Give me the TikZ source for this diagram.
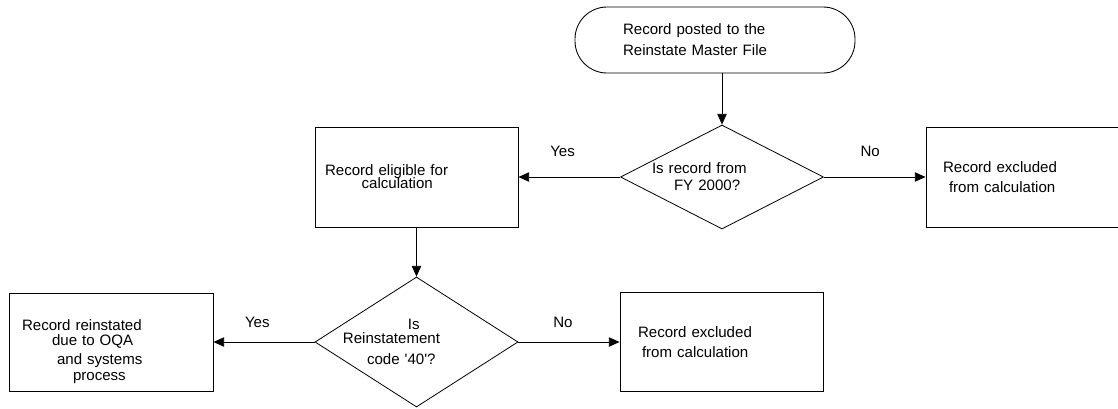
\documentclass[tikz,border=0pt]{standalone}
\usepackage{fontspec}
\setmainfont{Liberation Sans}
\usetikzlibrary{arrows.meta,shapes.geometric}

\begin{document}
\begin{tikzpicture}[x=0.75pt,y=-0.75pt,>={Triangle[length=8pt,width=7pt]},
 every node/.style={font=\fontsize{11.3}{13.5}\selectfont,inner sep=0pt},
 box/.style={draw,line width=0.65pt,align=left,text width=152.25pt,minimum height=75pt},
 dec/.style={draw,diamond,shape aspect=2,line width=0.6pt,align=left,minimum width=152.25pt},
 term/.style={draw,rounded corners=24pt,line width=0.65pt,align=left,text width=210pt,minimum height=49.5pt},
 lbl/.style={inner sep=0pt}]
\useasboundingbox (0,0) rectangle (1118,408);
\clip (0,0) rectangle (1118,408);
% top row
\node[term] (start) at (715,40) {\hspace*{36pt}Record posted to the\\[2.25pt]\hspace*{36pt}Reinstate Master File};
\node[dec,text width=100pt,minimum height=78pt] (q1) at (722,177)
 {\hspace*{-2.5pt}Is record from\\[-0.75pt]\hspace*{14pt}FY 2000?};
\node[box] (elig) at (416.5,177) {\hspace*{7.5pt}Record eligible for\\[-3.75pt]\hspace*{35pt}calculation};
\node[box] (excl1) at (1027.5,177) {\hspace*{12.75pt}Record excluded\\[1.5pt]\hspace*{17.25pt}from calculation};
% bottom row
\node[dec,shape aspect=1.6,text width=80pt,minimum height=97.5pt] (q2) at (416.5,342)
 {\hspace*{33.6pt}Is\\[-3pt]\hspace*{-15.2pt}Reinstatement\\[2.25pt]\hspace*{2.9pt}code \textquotesingle40\textquotesingle?};
\node[box,text width=153pt,minimum height=73.5pt] (reinst) at (111,342)
 {\hspace*{9.75pt}\rule{0pt}{23pt}Record reinstated\\[-2.25pt]\hspace*{32.25pt}due to OQA\\[0.75pt]\hspace*{36pt}and systems\\[-1.5pt]\hspace*{48pt}process};
\node[box,minimum height=74.25pt] (excl2) at (721.5,342) {\hspace*{13.5pt}Record excluded\\[1.5pt]\hspace*{16.5pt}from calculation};
% arrows
\draw[->,line width=0.6pt] (start.south -| q1.north) -- (q1.north);
\draw[->,line width=0.6pt] (q1.west) -- (elig.east) node[lbl,midway,above=14.8pt,xshift=-5pt] {Yes};
\draw[->,line width=0.6pt] (q1.east) -- (excl1.west) node[lbl,midway,above=14.8pt,xshift=-3.4pt] {No};
\draw[->,line width=0.6pt] (elig.south) -- (q2.north);
\draw[->,line width=0.6pt] (q2.west) -- (reinst.east) node[lbl,midway,above=10.3pt,xshift=-5pt] {Yes};
\draw[->,line width=0.6pt] (q2.east) -- (excl2.west) node[lbl,midway,above=10.3pt,xshift=-4.5pt] {No};
\end{tikzpicture}
\end{document}
